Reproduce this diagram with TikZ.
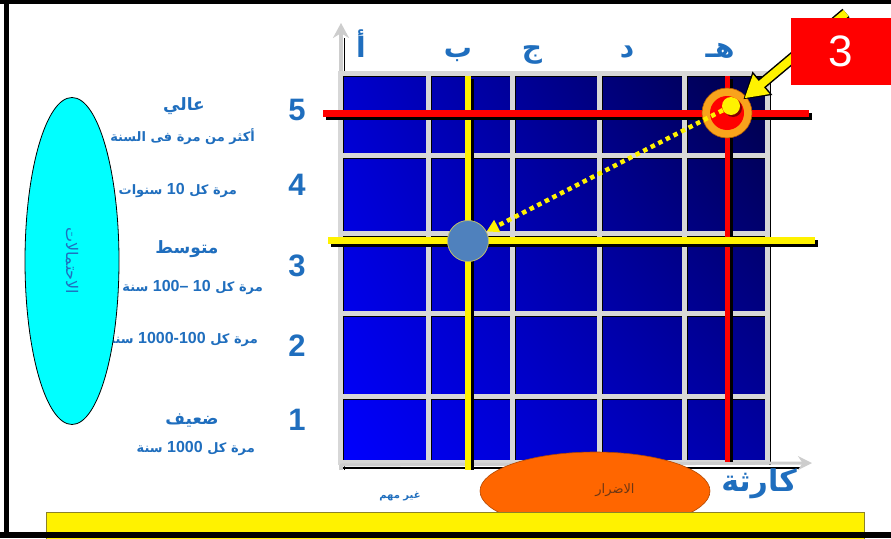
\documentclass[tikz,border=0pt]{standalone}
\usepackage{fontspec}
\setmainfont{Liberation Sans}
\newfontfamily\ar[Script=Arabic]{DejaVu Sans}
\newfontfamily\dig{Liberation Sans}
\TeXXeTstate=1
\usetikzlibrary{shapes.geometric,arrows.meta,shadings}
\definecolor{txtblue}{RGB}{31,110,190}
\definecolor{gridgray}{RGB}{215,215,215}
\definecolor{axisgray}{RGB}{205,205,205}
\definecolor{ringorange}{RGB}{249,163,28}
\definecolor{ptblue}{RGB}{79,129,189}
\definecolor{harmorange}{RGB}{255,102,0}
\definecolor{harmtext}{RGB}{110,55,20}
\definecolor{rectedge}{RGB}{140,130,40}
\definecolor{probcyan}{RGB}{0,255,255}
\definecolor{cellA}{RGB}{0,0,205}
\definecolor{cellB}{RGB}{0,0,70}
\definecolor{cellC}{RGB}{0,0,255}
\definecolor{cellD}{RGB}{0,0,165}
\newcommand{\rdig}[1]{\beginL{\dig\fontsize{16}{16}\selectfont #1}\endL{}}
\tikzset{
  sublbl/.style={text=txtblue, font=\ar\bfseries\fontsize{13}{13}\selectfont, inner sep=0},
  headlbl/.style={text=txtblue, font=\ar\bfseries\fontsize{17}{17}\selectfont, inner sep=0},
  digit/.style={text=txtblue, font=\bfseries\fontsize{31}{31}\selectfont, inner sep=0},
  colhead/.style={text=txtblue, font=\ar\bfseries\fontsize{28}{28}\selectfont, inner sep=0, anchor=base},
  gline/.style={gridgray, line width=5},
  sline/.style={black, line width=2},
}
\begin{document}
\begin{tikzpicture}[x=1pt,y=-1pt]
\useasboundingbox (0,0) rectangle (891,538);
\fill[white] (0,0) rectangle (891,538);

% left labels
\node[headlbl] (high) at (184,106) {\beginR عالي\endR};
\node[sublbl, anchor=east] (highsub) at (255,137) {\beginR أكثر من مرة فى السنة\endR};
\node[sublbl, anchor=east] (fouru) at (237,190) {\beginR مرة كل \rdig{10} سنوات\endR};
\node[headlbl] (mid) at (187,249) {\beginR متوسط\endR};
\node[sublbl, anchor=east] (threeu) at (263,287) {\beginR مرة كل \rdig{100– 10} سنة\endR};
\node[sublbl, anchor=east] (twou) at (258,339) {\beginR مرة كل \rdig{1000-100} سنة\endR};
\node[headlbl] (low) at (192,421) {\beginR ضعيف\endR};
\node[sublbl, anchor=east] (oneu) at (255,448) {\beginR مرة كل \rdig{1000} سنة\endR};

% probability ellipse
\node[ellipse, draw=black, line width=0.8, fill=probcyan, rotate=-90, minimum width=327, minimum height=94, inner sep=0,
      text=txtblue, font=\ar\fontsize{16}{16}\selectfont] (prob) at (72,261) {\beginR الاحتمالات\endR};

% row digits
\node[digit] (d5) at (297,110) {5};
\node[digit] (d4) at (297,185) {4};
\node[digit] (d3) at (297,266) {3};
\node[digit] (d2) at (297,346) {2};
\node[digit] (d1) at (297,420) {1};

% y axis
\draw[black, line width=1.5] (344.5,470) -- (344.5,38);
\draw[axisgray, line width=4, -{Stealth[length=15pt,width=16pt]}] (341,470) -- (341,23);

% grid
\shade[upper left=cellA, upper right=cellB, lower left=cellC, lower right=cellD] (340,73) rectangle (767,463);
\foreach \gx in {340,428,512,599,684,767} {\draw[sline] (\gx+3,77) -- (\gx+3,465);}
\foreach \gy in {73,155,233,313,396} {\draw[sline] (342,\gy+3) -- (770,\gy+3);}
\foreach \gx in {340,428,512,599,684,767} {\draw[gline] (\gx,73) -- (\gx,463);}
\foreach \gy in {73,155,233,313,396,462} {\draw[gline] (338,\gy) -- (769,\gy);}

% x axis
\draw[black, line width=1.5] (343,468) -- (800,468);
\draw[axisgray, line width=3, -{Stealth[length=14pt,width=14pt]}] (340,465) -- (812,463);

% column letters
\node[colhead] (ca) at (361,57) {\beginR أ\endR};
\node[colhead] (cb) at (458,57) {\beginR ب\endR};
\node[colhead] (cc) at (532,57) {\beginR ج\endR};
\node[colhead] (cd) at (627,57) {\beginR د\endR};
\node[colhead] (ce) at (720,57) {\beginR هـ\endR};

% marker lines
\draw[black, line width=6] (471,79) -- (471,470);
\draw[yellow, line width=6] (468,76) -- (468,470);
\draw[black, line width=5] (730,79) -- (730,462);
\draw[red, line width=5] (727,76) -- (727,462);
\draw[black, line width=7] (326,116) -- (812,116);
\draw[red, line width=7] (323,113) -- (809,113);
\draw[black, line width=7] (331,243) -- (818,243);
\draw[yellow, line width=7] (328,240) -- (815,240);

% points
\node[circle, fill=ptblue, draw={rgb,255:red,190;green,190;blue,110}, line width=0.8, minimum size=41, inner sep=0] (bluept) at (468,241) {};
\node[circle, fill=ringorange, draw=orange!70!black, line width=0.6, minimum size=50, inner sep=0] (target) at (727,113) {};
\node[circle, fill=red, minimum size=34, inner sep=0] (tcore) at (727,113) {};
\fill[red!50!black] (733,108) circle (9);
\node[circle, fill=yellow, minimum size=18, inner sep=0] (tdot) at (731,106) {};
\draw[yellow, line width=4.5, dash pattern=on 4.5pt off 4pt, -{Triangle[length=12pt,width=13pt]}] (tdot) -- (bluept);

% pointer arrow and badge
\coordinate (ytail) at (846,13);
\draw[black, line width=11, shorten >=-4pt, -{Triangle[length=25pt,width=29pt]}] (ytail) -- (target);
\draw[yellow, line width=8, shorten >=-2.5pt, -{Triangle[length=22pt,width=24pt]}] (ytail) -- (target);
\node[fill=red, minimum width=100, minimum height=67, inner sep=0, text=white, font=\fontsize{44}{44}\selectfont] (badge) at (841,51) {3};

% bottom
\node[ellipse, fill=harmorange, draw=harmorange!70!black, line width=0.6, minimum width=230, minimum height=78, inner sep=0] (harm) at (595,491) {};
\node[font=\ar\fontsize{13}{13}\selectfont, text=harmtext, inner sep=0] (harmlbl) at (615,490) {\beginR الاضرار\endR};
\node[text=txtblue, font=\ar\bfseries\fontsize{30}{30}\selectfont, inner sep=0] (cat) at (759,484) {\beginR كارثة\endR};
\node[text=txtblue, font=\ar\bfseries\fontsize{10}{10}\selectfont, inner sep=0] (minor) at (400,496) {\beginR غير مهم\endR};
\draw[fill=yellow, draw=rectedge, line width=0.8] (46,512) rectangle (864,540);

% frame
\fill[black] (0,0) rectangle (891,4);
\fill[black] (4,0) rectangle (9,538);
\fill[black] (0,532) rectangle (891,538);
\end{tikzpicture}
\end{document}
